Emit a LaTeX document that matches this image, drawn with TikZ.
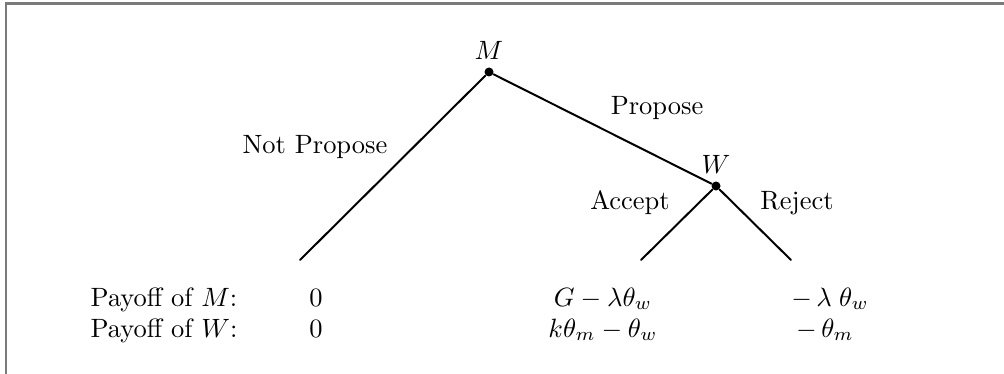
\documentclass[tikz,border=0pt]{standalone}
\usepackage{amsmath}
\usepackage{tikz}
\usetikzlibrary{positioning}
\definecolor{marco}{HTML}{7A7A7A}
\tikzset{
  every picture/.style={line cap=round},
  nodo/.style={circle, fill=black, inner sep=0pt, minimum size=3.4pt},
  jugador/.style={inner sep=2pt},
  rama/.style={line width=0.75pt},
  pago/.style={anchor=base, inner sep=0pt},
}

\begin{document}
\begin{tikzpicture}[x=0.01327cm, y=-0.01327cm]
  \useasboundingbox (0,0) rectangle (1004,374);
  % marco
  \draw[marco, line width=0.8pt] (6,390) -- (6,3.5) -- (1020,3.5);

  % arbol
  \node[nodo] (m) at (489,72) {};
  \node[jugador, above=0.5pt of m] (lm) {$M$};
  \node[nodo] (w) at (716,186) {};
  \node[jugador, above=0.5pt of w] (lw) {$W$};
  \coordinate (np) at (300,260);
  \coordinate (ac) at (641,260);
  \coordinate (re) at (791,260);
  \draw[rama] (m) -- (np);
  \draw[rama] (m) -- (w);
  \draw[rama] (w) -- (ac);
  \draw[rama] (w) -- (re);

  % etiquetas de las ramas
  \node (tnp) at (315,147) {Not Propose};
  \node[pago] (tp) at (657,115) {Propose};
  \node (ta) at (630,203) {Accept};
  \node (tr) at (797,203) {Reject};

  % pagos
  \node[pago] (pm) at (164,306) {Payoff of $M$:};
  \node[pago] (pm1) at (316,306) {$0$};
  \node[pago] (pm2) at (603,306) {$G-\lambda\theta_w$};
  \node[pago] (pm3) at (830,306) {$-\,\lambda\;\theta_w$};
  \node[pago] (pw) at (164,337) {Payoff of $W$:};
  \node[pago] (pw1) at (316,337) {$0$};
  \node[pago] (pw2) at (603,337) {$k\theta_m-\theta_w$};
  \node[pago] (pw3) at (825,337) {$-\,\theta_m$};
\end{tikzpicture}
\end{document}
